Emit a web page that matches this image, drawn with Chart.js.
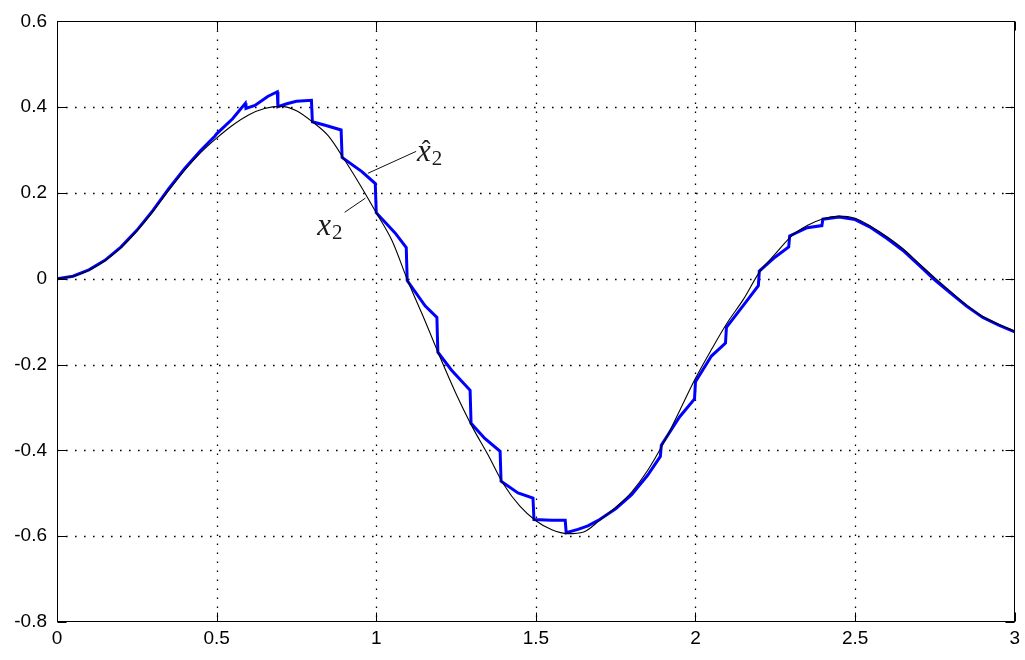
<!DOCTYPE html>
<html><head><meta charset="utf-8">
<script src="https://cdn.jsdelivr.net/npm/chart.js@4.4.1/dist/chart.umd.min.js"></script>
<style>html,body{margin:0;padding:0;background:#fff;}#wrap{width:1025px;height:660px;}</style>
</head><body><div id="wrap"><canvas id="c" width="1025" height="660"></canvas></div>
<script>
// ---- tick labels ----
const xTicks = [0, 0.5, 1, 1.5, 2, 2.5, 3];
const yTicks = [-0.8, -0.6, -0.4, -0.2, 0, 0.2, 0.4, 0.6];

// ---- x2 (true state, thin black) ----
const x2Time = [0,0.05,0.10,0.15,0.20,0.25,0.30,0.35,0.40,0.45,0.50,0.55,0.60,0.65,0.70,0.75,0.80,0.85,0.90,0.95,
  1.00,1.05,1.10,1.15,1.20,1.25,1.30,1.35,1.40,1.45,1.50,1.55,1.60,1.65,1.70,1.75,1.80,1.85,1.90,1.95,
  2.00,2.05,2.10,2.15,2.20,2.25,2.30,2.35,2.40,2.45,2.50,2.55,2.60,2.65,2.70,2.75,2.80,2.85,2.90,2.95,3.00];
const x2Values = [0.000,0.006,0.020,0.042,0.072,0.111,0.156,0.206,0.253,0.294,0.328,0.358,0.382,0.397,0.402,0.392,0.366,0.333,0.278,0.218,
  0.154,0.088,-0.007,-0.093,-0.183,-0.268,-0.344,-0.410,-0.480,-0.530,-0.564,-0.585,-0.594,-0.590,-0.563,-0.533,-0.497,-0.447,-0.383,-0.308,
  -0.232,-0.165,-0.102,-0.048,0.015,0.058,0.099,0.124,0.140,0.146,0.141,0.122,0.098,0.070,0.036,0.002,-0.030,-0.062,-0.088,-0.106,-0.122];

// ---- x2 hat (estimate, thick blue, sample-and-hold steps) ----
const x2hatTime = [0,0.05,0.10,0.15,0.20,0.25,0.30,0.35,0.40,0.45,0.495,0.50,0.55,0.59,0.592,0.62,0.66,0.69,0.692,0.72,0.75,0.797,0.80,0.84,0.89,0.893,0.955,0.997,1.000,
  1.059,1.094,1.097,1.153,1.190,1.193,1.236,1.294,1.297,1.340,1.388,1.391,1.444,1.491,1.494,1.55,1.592,1.595,1.632,1.663,1.70,1.75,1.80,1.85,1.890,1.893,1.95,1.997,
  2.000,2.05,2.094,2.097,2.15,2.197,2.200,2.25,2.292,2.295,2.35,2.396,2.399,2.45,2.50,2.55,2.60,2.65,2.70,2.75,2.80,2.85,2.90,2.95,3.00];
const x2hatValues = [0,0.006,0.021,0.043,0.074,0.113,0.159,0.210,0.257,0.299,0.333,0.338,0.373,0.409,0.397,0.404,0.425,0.436,0.401,0.408,0.414,0.416,0.366,0.358,0.347,0.283,0.250,0.222,0.154,
  0.107,0.073,-0.004,-0.063,-0.090,-0.171,-0.213,-0.260,-0.337,-0.372,-0.402,-0.472,-0.499,-0.511,-0.561,-0.563,-0.563,-0.592,-0.584,-0.576,-0.561,-0.536,-0.503,-0.458,-0.414,-0.388,-0.322,-0.280,
  -0.240,-0.180,-0.150,-0.113,-0.062,-0.016,0.018,0.051,0.074,0.100,0.119,0.124,0.139,0.144,0.138,0.119,0.094,0.066,0.032,-0.003,-0.034,-0.064,-0.090,-0.108,-0.124];

// ---- annotation labels (data coordinates) ----
const labelHat = {x: 1.128, y: 0.274, from: [0.974, 0.246], to: [1.125, 0.297]};
const labelPlain = {x: 0.815, y: 0.103, from: [0.966, 0.188], to: [0.901, 0.155]};

const zip = (t, v) => t.map((x, i) => ({x, y: v[i]}));

const frame = {
  id: 'frame',
  beforeDatasetsDraw(chart) {
    const {ctx, chartArea: a, scales: {x, y}} = chart;
    ctx.save();
    ctx.strokeStyle = '#000';
    ctx.lineWidth = 1.3;
    ctx.setLineDash([1.6, 7.4]);
    xTicks.forEach(v => {
      const px = Math.round(x.getPixelForValue(v)) + 0.5;
      if (px < a.left + 2 || px > a.right - 2) return;
      ctx.beginPath(); ctx.moveTo(px, a.top); ctx.lineTo(px, a.bottom); ctx.stroke();
    });
    yTicks.forEach(v => {
      const py = Math.round(y.getPixelForValue(v)) + 0.5;
      if (py < a.top + 2 || py > a.bottom - 2) return;
      ctx.beginPath(); ctx.moveTo(a.left, py); ctx.lineTo(a.right, py); ctx.stroke();
    });
    ctx.restore();
  },
  afterDatasetsDraw(chart) {
    const {ctx, chartArea: a, scales: {x, y}} = chart;
    ctx.save();
    ctx.strokeStyle = '#000';
    ctx.lineWidth = 1;
    const L = Math.round(a.left) + 0.5, R = Math.round(a.right) - 0.5, T = Math.round(a.top) + 0.5, B = Math.round(a.bottom) - 0.5;
    ctx.strokeRect(L, T, R - L, B - T);
    const tl = 9;
    ctx.beginPath();
    xTicks.forEach(v => {
      const px = Math.round(x.getPixelForValue(v)) + 0.5;
      ctx.moveTo(px, B); ctx.lineTo(px, B - tl);
      ctx.moveTo(px, T); ctx.lineTo(px, T + tl);
    });
    yTicks.forEach(v => {
      const py = Math.round(y.getPixelForValue(v)) + 0.5;
      ctx.moveTo(L, py); ctx.lineTo(L + tl, py);
      ctx.moveTo(R, py); ctx.lineTo(R - tl, py);
    });
    ctx.stroke();

    // annotations
    const drawLabel = (lab, hat) => {
      ctx.beginPath();
      ctx.lineWidth = 1;
      ctx.strokeStyle = '#111';
      ctx.moveTo(x.getPixelForValue(lab.from[0]), y.getPixelForValue(lab.from[1]));
      ctx.lineTo(x.getPixelForValue(lab.to[0]), y.getPixelForValue(lab.to[1]));
      ctx.stroke();
      const px = x.getPixelForValue(lab.x), py = y.getPixelForValue(lab.y);
      ctx.fillStyle = '#1a1a1a';
      ctx.textBaseline = 'alphabetic';
      ctx.textAlign = 'left';
      ctx.font = 'italic 31px "Liberation Serif", "DejaVu Serif", serif';
      ctx.fillText('x', px, py);
      const w = ctx.measureText('x').width;
      if (hat) {
        ctx.font = '26px "Liberation Serif", "DejaVu Serif", serif';
        ctx.textAlign = 'center';
        ctx.fillText('\u02C6', px + w / 2 + 2, py - 3);
        ctx.textAlign = 'left';
      }
      ctx.font = '21px "Liberation Serif", "DejaVu Serif", serif';
      ctx.fillText('2', px + w + 1, py + 4);
    };
    drawLabel(labelHat, true);
    drawLabel(labelPlain, false);
    ctx.restore();
  }
};

new Chart(document.getElementById('c'), {
  type: 'scatter',
  data: {
    datasets: [
      {label: 'x2', data: zip(x2Time, x2Values), showLine: true, borderColor: '#000', borderWidth: 1.1,
        pointRadius: 0, cubicInterpolationMode: 'monotone', order: 1},
      {label: 'x2hat', data: zip(x2hatTime, x2hatValues), showLine: true, borderColor: '#0000ff', borderWidth: 3,
        pointRadius: 0, tension: 0, order: 2}
    ]
  },
  options: {
    responsive: false,
    animation: false,
    layout: {padding: {top: 17, right: 8, left: 0, bottom: 0}},
    plugins: {legend: {display: false}, tooltip: {enabled: false}},
    scales: {
      x: {
        type: 'linear', min: 0, max: 3,
        afterBuildTicks: s => { s.ticks = xTicks.map(v => ({value: v})); },
        afterFit: s => { s.height = 38; },
        grid: {display: false, drawTicks: false},
        border: {display: false},
        ticks: {color: '#000', padding: 5, maxRotation: 0, font: {family: '"Liberation Sans", Arial, sans-serif', size: 19},
          callback: v => String(v)}
      },
      y: {
        type: 'linear', min: -0.8, max: 0.6,
        afterBuildTicks: s => { s.ticks = yTicks.map(v => ({value: v})); },
        afterFit: s => { s.width = 57; },
        grid: {display: false, drawTicks: false},
        border: {display: false},
        ticks: {color: '#000', padding: 10, font: {family: '"Liberation Sans", Arial, sans-serif', size: 19},
          callback: v => String(v)}
      }
    }
  },
  plugins: [frame]
});
</script>
</body></html>
